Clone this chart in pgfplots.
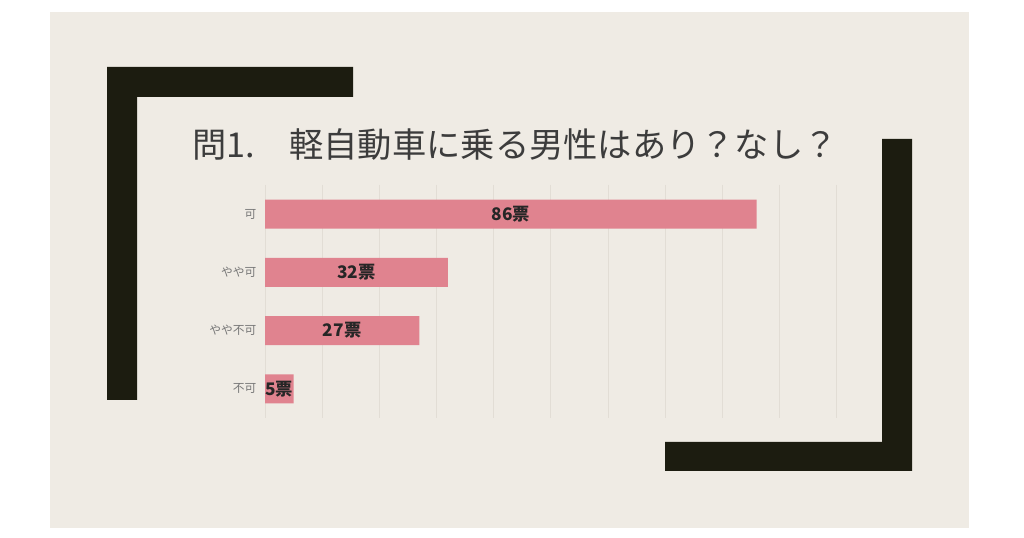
\documentclass[border=0pt]{standalone}
\usepackage{fontspec}
\setmainfont{Noto Sans CJK JP}
\usepackage{pgfplots}
\usepackage{pgfplotstable}
\pgfplotsset{compat=1.18}
\definecolor{bgc}{HTML}{EFEBE4}
\definecolor{dk}{HTML}{1C1C10}
\definecolor{barc}{HTML}{E0838F}
\definecolor{gridc}{HTML}{E2DDD5}
\definecolor{ttl}{HTML}{3C3C3C}
\definecolor{lab}{HTML}{777777}
\pgfplotstableread{
idx v
0 86
1 32
2 27
3 5
}\votes
\begin{document}
\begin{tikzpicture}[x=0.75pt,y=0.75pt]
\useasboundingbox (0,0) rectangle (1024,538);
\fill[white] (0,0) rectangle (1024,538);
\fill[bgc] (50,10) rectangle (969,526);
\fill[dk] (107,471) -- (353,471) -- (353,441) -- (137,441) -- (137,138) -- (107,138) -- cycle;
\fill[dk] (912,399) -- (912,67) -- (665,67) -- (665,96) -- (882,96) -- (882,399) -- cycle;
\node[text=ttl, font=\fontsize{25.7}{25.7}\selectfont, anchor=center] at (515,393) {問1.　軽自動車に乗る男性はあり？なし？};
\begin{axis}[
  at={(198.75pt,90pt)}, anchor=south west,
  scale only axis, width=428.8pt, height=174.75pt,
  xmin=0, xmax=100, ymin=-0.5, ymax=3.5, y dir=reverse,
  axis line style={draw=none}, tick style={draw=none},
  xtick={0,10,...,100}, xticklabels={},
  xmajorgrids, grid style={gridc, line width=0.6pt},
  ytick={0,1,2,3}, yticklabels={可,やや可,やや不可,不可},
  yticklabel style={text=lab, font=\fontsize{8.8}{8.8}\selectfont, xshift=-3pt},
  bar width=21.75pt,
  /pgf/number format/assume math mode=true,
]
\addplot[xbar, fill=barc, draw=none] table[x=v, y=idx] {\votes};
\addplot[draw=none, mark=none, point meta=explicit,
  nodes near coords={\pgfmathprintnumber[assume math mode=true]{\pgfplotspointmeta}票},
  nodes near coords style={anchor=center, text=black!85, font=\bfseries\fontsize{13}{13}\selectfont}]
  table[x expr=\thisrow{v}/2, y=idx, meta=v] {\votes};
\end{axis}
\end{tikzpicture}
\end{document}
